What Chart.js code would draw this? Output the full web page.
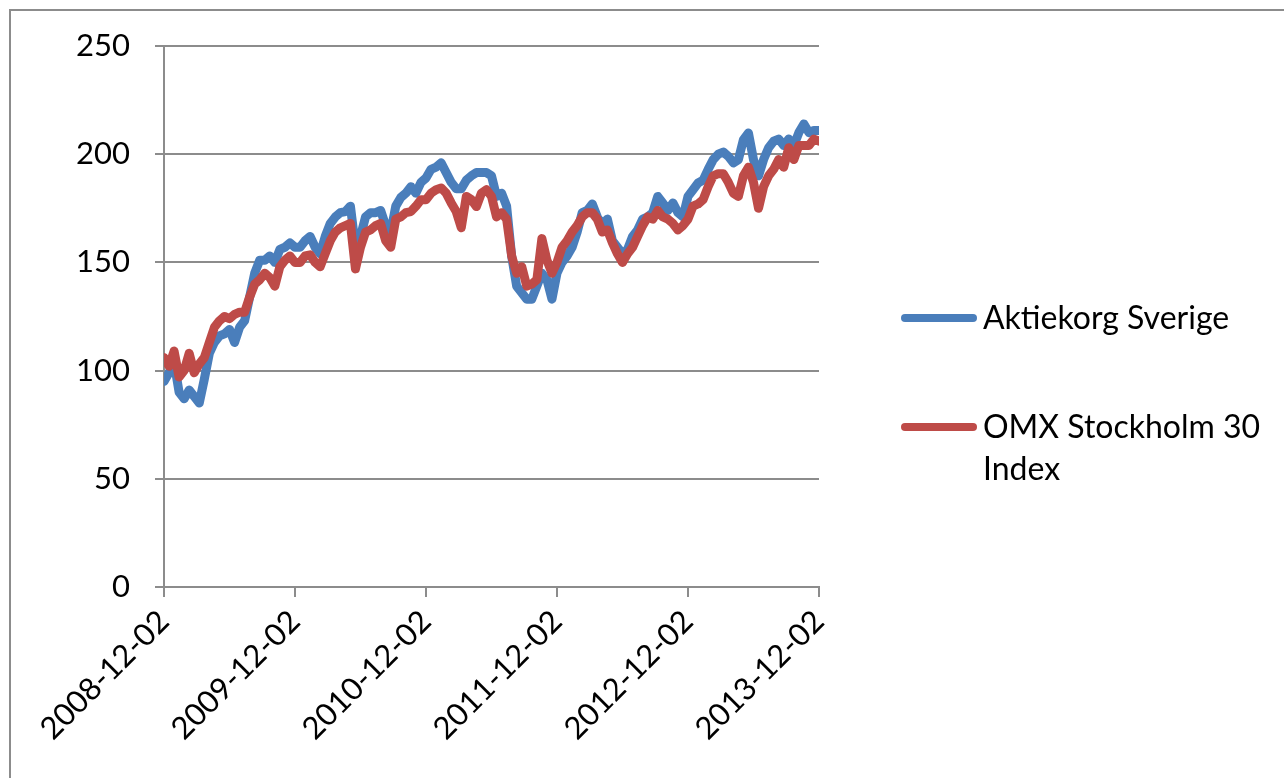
<!DOCTYPE html>
<html>
<head>
<meta charset="utf-8">
<script src="https://cdn.jsdelivr.net/npm/chart.js@4/dist/chart.umd.min.js"></script>
<style>
  html, body { margin: 0; padding: 0; background: #fff; overflow: hidden; }
  #wrap { position: relative; width: 1284px; height: 778px; }
  #frame { position: absolute; left: 9px; top: 9px; width: 1290px; height: 800px; border: 2px solid #8c8c8c; box-sizing: border-box; }
  #chart { position: absolute; left: 0; top: 0; }
  .legend { position: absolute; left: 901px; font-family: Lato, sans-serif; font-size: 32px; color: #000; line-height: 42px; }
  .legend .swatch { position: absolute; left: 0; width: 76px; height: 8px; border-radius: 4px; }
  .legend .label { position: absolute; left: 82px; white-space: nowrap; }
</style>
</head>
<body>
<div id="wrap">
  <div id="frame"></div>
  <canvas id="chart" width="1284" height="778"></canvas>
  <div id="legend"></div>
</div>
<script>
// tick labels for the x axis (one per year)
const tickLabels = ['2008-12-02', '2009-12-02', '2010-12-02', '2011-12-02', '2012-12-02', '2013-12-02'];
const pointsPerYear = 26;

const seriesNames = ['Aktiekorg Sverige', 'OMX Stockholm 30 Index'];
const seriesColors = ['#4a7ebb', '#be4b48'];

// Aktiekorg Sverige (every ~2 weeks)
const aktiekorg = [
  95, 99, 104, 90, 87, 91, 88, 85, 96, 108, 113, 116, 117, 119, 113, 120, 123, 134, 145, 151, 151, 153, 150, 156, 157, 159,
  157, 157, 160, 162, 157, 154, 162, 168, 171, 173, 173.5, 176, 157, 162, 171, 173, 173, 174, 167, 164, 176, 180, 182, 185, 182, 187,
  189, 193, 194, 196, 191.5, 187, 184, 184, 188, 190, 191.5, 191.5, 191.5, 190, 180.5, 182, 176, 153, 139, 136, 133, 133, 139, 145, 142, 133,
  145, 150, 153, 157, 164, 173, 174, 177, 171, 167, 170, 160, 157, 154, 156, 162, 165, 170, 171, 173, 180.5, 177.5, 174, 177.5, 173, 171,
  180.5, 183.6, 186.7, 188, 193, 197.5, 200, 201, 199, 196, 197.5, 206.7, 209.8, 197.5, 190, 197.5, 203, 206, 207, 204, 207, 204, 210, 214, 210, 211,
  211
];

// OMX Stockholm 30 Index
const omxs30 = [
  106, 102, 109, 97, 100, 108, 99, 103, 106, 113, 120, 123, 125, 124, 126, 127, 127, 134, 140, 142, 145, 143, 139, 148, 151, 153,
  150, 150, 153, 153.5, 150, 148, 154, 160, 164, 166, 167, 168, 147, 157, 164, 165, 167, 168, 160, 157, 170, 171, 173, 173.5, 176, 179,
  179, 182, 183.6, 184.4, 182, 177.5, 173.5, 166, 180.5, 179, 175.8, 182, 183.6, 180.5, 171, 173, 170, 153, 145, 148, 139, 140, 142, 161, 151, 145,
  150, 157, 160, 164, 167, 171, 173, 173, 170, 164, 165, 159, 154, 150, 154, 157, 162, 167, 171, 170, 174, 171, 170, 168, 165, 167,
  170, 176, 177, 179, 185, 190, 191, 191, 187, 182, 180.5, 190, 194, 187, 175, 185, 190, 193, 197.5, 194, 203, 197.5, 204, 204, 204, 207,
  206
];

const yTicks = [0, 50, 100, 150, 200, 250];

const gridColor = '#8c8c8c';
const fontSpec = { family: 'Lato, sans-serif', size: 31 };

function toPoints(arr) {
  return arr.map((v, i) => ({ x: i, y: v }));
}

const lastIndex = (tickLabels.length - 1) * pointsPerYear;

new Chart(document.getElementById('chart'), {
  type: 'line',
  data: {
    datasets: [
      {
        label: seriesNames[0],
        data: toPoints(aktiekorg),
        borderColor: seriesColors[0],
        borderWidth: 9,
        pointRadius: 0,
        tension: 0,
        borderCapStyle: 'round',
        borderJoinStyle: 'round',
        order: 2
      },
      {
        label: seriesNames[1],
        data: toPoints(omxs30),
        borderColor: seriesColors[1],
        borderWidth: 9,
        pointRadius: 0,
        tension: 0,
        borderCapStyle: 'round',
        borderJoinStyle: 'round',
        order: 1
      }
    ]
  },
  options: {
    responsive: false,
    animation: false,
    layout: { padding: { left: 0, top: 46, right: 1284 - 819, bottom: 0 } },
    plugins: { legend: { display: false }, tooltip: { enabled: false } },
    scales: {
      x: {
        type: 'linear',
        min: 0,
        max: lastIndex,
        afterBuildTicks: (scale) => {
          scale.ticks = tickLabels.map((_, i) => ({ value: i * pointsPerYear }));
        },
        afterFit: (scale) => { scale.height = 191; },
        ticks: {
          autoSkip: false,
          maxRotation: 45,
          minRotation: 45,
          padding: 6,
          color: '#000',
          font: fontSpec,
          callback: (v) => tickLabels[Math.round(v / pointsPerYear)]
        },
        grid: { drawOnChartArea: false, drawTicks: true, tickLength: 10, color: gridColor, lineWidth: 2 },
        border: { color: gridColor, width: 2 }
      },
      y: {
        min: 0,
        max: 250,
        afterBuildTicks: (scale) => {
          scale.ticks = yTicks.map(v => ({ value: v }));
        },
        afterFit: (scale) => { scale.width = 164; },
        ticks: { padding: 25, color: '#000', font: fontSpec },
        grid: { color: gridColor, lineWidth: 2, tickLength: 9 },
        border: { color: gridColor, width: 2 }
      }
    }
  }
});

// legend drawn as html, to the right of the plot
const legendTops = [296, 405];
const legendRows = [[seriesNames[0]], ['OMX Stockholm 30', 'Index']];
const legendEl = document.getElementById('legend');
legendRows.forEach((lines, k) => {
  const item = document.createElement('div');
  item.className = 'legend';
  item.style.top = legendTops[k] + 'px';
  item.innerHTML = '<div class="swatch" style="top:18px;background:' + seriesColors[k] + '"></div>' +
    '<div class="label">' + lines.join('<br>') + '</div>';
  legendEl.appendChild(item);
});
</script>
</body>
</html>
